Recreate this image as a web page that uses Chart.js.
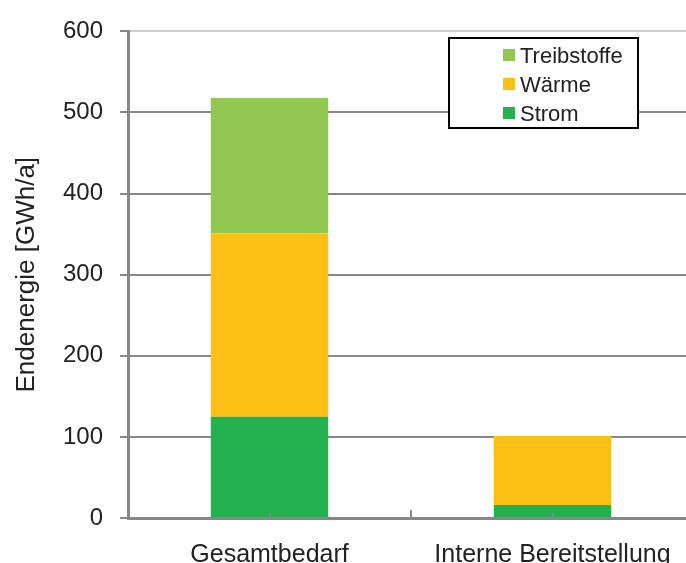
<!DOCTYPE html>
<html>
<head>
<meta charset="utf-8">
<script src="https://cdn.jsdelivr.net/npm/chart.js@4"></script>
<style>
  body { margin: 0; background: #fff; overflow: hidden; }
  #wrap { width: 686px; height: 563px; overflow: hidden; }
</style>
</head>
<body>
<div id="wrap"><canvas id="chart" width="694" height="563"></canvas></div>
<script>
// Werte (GWh/a)
const kategorien = ['Gesamtbedarf', 'Interne Bereitstellung'];
const strom = [125, 16];
const waerme = [226, 85];
const treibstoffe = [167, 0];
const yTicks = [0, 100, 200, 300, 400, 500, 600];

const farben = { strom: '#23b14f', waerme: '#fcc014', treibstoffe: '#92c851' };
const grau = '#878787';
const schrift = '"Liberation Sans", Arial, sans-serif';

// Legende mit Rahmen oben rechts
const legendeBox = {
  id: 'legendeBox',
  afterDraw(chart) {
    const ctx = chart.ctx;
    ctx.save();
    ctx.strokeStyle = '#000';
    ctx.lineWidth = 2;
    ctx.fillStyle = '#fff';
    ctx.fillRect(449, 38, 189, 90);
    ctx.strokeRect(449, 38, 189, 90);
    const items = chart.data.datasets.slice().reverse();
    ctx.font = '22px ' + schrift;
    ctx.textBaseline = 'middle';
    items.forEach((ds, i) => {
      const y = 55 + i * 29;
      ctx.fillStyle = ds.backgroundColor;
      ctx.fillRect(503, y - 6, 12, 12);
      ctx.fillStyle = '#222';
      ctx.fillText(ds.label, 520, y + 2);
    });
    ctx.restore();
  }
};

// kleine Teilstriche an der x-Achse
const xStriche = {
  id: 'xStriche',
  afterDatasetsDraw(chart) {
    const ctx = chart.ctx;
    const xs = chart.scales.x;
    const y0 = chart.scales.y.getPixelForValue(0);
    ctx.save();
    ctx.strokeStyle = grau;
    ctx.lineWidth = 2;
    kategorien.forEach((k, i) => {
      const x = Math.round(xs.getPixelForValue(i));
      ctx.beginPath(); ctx.moveTo(x, y0); ctx.lineTo(x, y0 - 5); ctx.stroke();
      if (i > 0) {
        const xb = Math.round((xs.getPixelForValue(i - 1) + x) / 2);
        ctx.beginPath(); ctx.moveTo(xb, y0); ctx.lineTo(xb, y0 - 8); ctx.stroke();
      }
    });
    ctx.restore();
  }
};

const ctx = document.getElementById('chart').getContext('2d');
new Chart(ctx, {
  type: 'bar',
  data: {
    labels: kategorien,
    datasets: [
      { label: 'Strom', data: strom, backgroundColor: farben.strom },
      { label: 'Wärme', data: waerme, backgroundColor: farben.waerme },
      { label: 'Treibstoffe', data: treibstoffe, backgroundColor: farben.treibstoffe }
    ]
  },
  options: {
    responsive: false,
    animation: false,
    devicePixelRatio: 1,
    layout: { padding: { top: 26, left: 0, right: 0, bottom: 0 } },
    datasets: { bar: { categoryPercentage: 1, barPercentage: 0.415 } },
    plugins: { legend: { display: false }, tooltip: { enabled: false } },
    scales: {
      x: {
        stacked: true,
        grid: { display: false },
        border: { display: true, color: grau, width: 3 },
        ticks: {
          color: '#222', padding: 14,
          font: { family: schrift, size: 25 }
        },
        afterFit(s) { s.height = 45; }
      },
      y: {
        stacked: true,
        min: 0, max: 600,
        afterBuildTicks(s) { s.ticks = yTicks.map(v => ({ value: v })); },
        grid: {
          color: c => (c.tick && c.tick.value === 600 ? '#cfcfcf' : grau),
          lineWidth: 2,
          tickLength: 8,
          tickColor: grau
        },
        border: { display: true, color: grau, width: 3 },
        ticks: {
          color: '#222', padding: 17,
          font: { family: schrift, size: 24 }
        },
        title: {
          display: true,
          text: 'Endenergie [GWh/a]',
          color: '#222',
          padding: { top: 11, bottom: 0 },
          font: { family: schrift, size: 26 }
        },
        afterFit(s) { s.width = 128; }
      }
    }
  },
  plugins: [xStriche, legendeBox]
});
</script>
</body>
</html>
